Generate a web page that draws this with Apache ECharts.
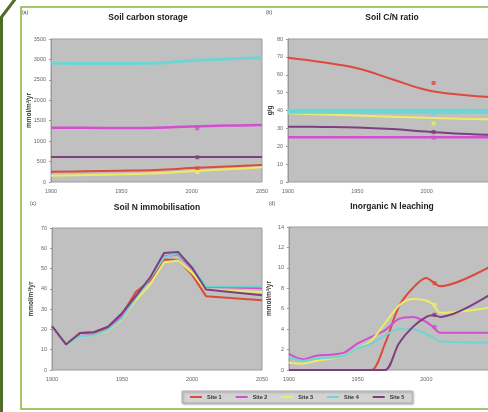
<!DOCTYPE html>
<html>
<head>
<meta charset="utf-8">
<script src="https://cdn.jsdelivr.net/npm/echarts@6/dist/echarts.min.js"></script>
<style>
  html, body { margin: 0; padding: 0; overflow: hidden; background: #fff; }
  #chart { width: 520px; height: 412px; }
</style>
</head>
<body>
<div id="chart"></div>
<script>
var sites = ["Site 1", "Site 2", "Site 3", "Site 4", "Site 5"];
var siteColors = ["#dc4a3e", "#d24fd2", "#ecec64", "#6fd4d4", "#7e3f80"];

// (a) soil carbon storage
var carbonYears = [1900, 1925, 1950, 1975, 2000, 2025, 2050];
var carbonS1 = [253, 262, 275, 295, 340, 380, 416];
var carbonS2 = [1330, 1325, 1322, 1330, 1358, 1380, 1395];
var carbonS3 = [155, 170, 188, 215, 262, 310, 359];
var carbonS4 = [2905, 2900, 2900, 2910, 2975, 3010, 3040];
var carbonS5 = [612, 612, 612, 612, 612, 612, 612];
var carbonObsYear = 2004;
var carbonObs = [335, 1315, 245, 2990, 605];

// (b) soil C/N ratio
var cnYears = [1900, 1925, 1950, 1975, 2000, 2025, 2050];
var cnS1 = [69.5, 67, 63.6, 57.5, 51.5, 48.8, 47.3];
var cnS2 = [25, 25, 25, 25, 25, 25, 25];
var cnS3 = [38.4, 37.8, 37.2, 36.5, 35.9, 35.4, 35];
var cnS4 = [39.6, 39.6, 39.6, 39.6, 39.6, 39.6, 39.6];
var cnS5 = [30.9, 30.8, 30.5, 29.6, 28.2, 27, 26.2];
var cnObsYear = 2005;
var cnObs = [55.4, 24.8, 32.8, 38.4, 28];

// (c) soil N immobilisation
var immYears = [1900, 1910, 1920, 1930, 1940, 1950, 1960, 1970, 1980, 1990, 2000, 2010, 2050];
var immS1 = [21.6, 12.6, 18.2, 18.6, 21.2, 27.5, 38.5, 44, 54.5, 54.2, 47, 36.4, 34.4];
var immS2 = [21.6, 12.6, 16.8, 17.2, 20, 27, 36.5, 45, 56, 57, 50, 41, 40.3];
var immS3 = [21.6, 12.6, 16.5, 17, 19.5, 25, 34.5, 42, 53, 54, 48, 39.5, 38.5];
var immS4 = [21.6, 12.6, 16.5, 17, 19.8, 25.5, 35.5, 45, 55.5, 57.5, 51, 41.3, 41.2];
var immS5 = [21.6, 12.6, 18.2, 18.6, 21.3, 28, 36.5, 45.5, 57.7, 58.2, 50.5, 39.7, 36.8];

// (d) inorganic N leaching
var leachYears = [1900, 1910, 1920, 1930, 1940, 1950, 1960, 1970, 1980, 1990, 2000, 2005, 2010, 2050];
var leachS1 = [0, 0, 0, 0, 0, 0, 0, 2.6, 6.2, 8.0, 9.0, 8.6, 8.2, 10.4];
var leachS2 = [1.57, 1.05, 1.4, 1.5, 1.7, 2.6, 3.25, 3.9, 5.0, 5.2, 4.7, 4.2, 3.65, 3.65];
var leachS3 = [0.72, 0.62, 0.9, 1.1, 1.4, 2.1, 2.9, 4.6, 6.3, 6.95, 6.8, 6.4, 5.6, 6.2];
var leachS4 = [1.3, 0.9, 1.1, 1.2, 1.4, 2.1, 2.6, 3.4, 4.0, 4.0, 3.5, 3.2, 2.8, 2.7];
var leachS5 = [0, 0, 0, 0, 0, 0, 0, 0, 2.6, 4.2, 5.2, 5.35, 5.2, 7.7];
var leachObsYear = 2006;
var leachObs = [8.5, 4.2, 6.4, null, 5.4];

var myChart = echarts.init(document.getElementById("chart"));

function pairs(xs, ys) {
  return xs.map(function (x, i) { return [x, ys[i]]; });
}

function makeSeries(gi, years, arrs, smooth, widths) {
  var out = [];
  arrs.forEach(function (arr, i) {
    out.push({
      name: sites[i],
      type: "line",
      xAxisIndex: gi,
      yAxisIndex: gi,
      data: pairs(years, arr),
      smooth: smooth,
      showSymbol: false,
      symbol: "none",
      color: siteColors[i],
      lineStyle: { width: widths ? widths[i] : 2, color: siteColors[i] }
    });
  });
  return out;
}

function obsSeries(gi, year, vals) {
  var out = [];
  vals.forEach(function (v, i) {
    if (v == null) return;
    out.push({
      name: "obs" + gi + i,
      type: "scatter",
      xAxisIndex: gi,
      yAxisIndex: gi,
      symbol: "rect",
      symbolSize: 4,
      data: [[year, v]],
      itemStyle: { color: siteColors[i] },
      z: 5
    });
  });
  return out;
}

var grids = [
  { left: 51, top: 39, width: 211, height: 143 },
  { left: 288, top: 39, width: 208, height: 143 },
  { left: 52, top: 228, width: 210, height: 142 },
  { left: 289, top: 227, width: 206, height: 143 }
];

var yInfo = [
  { max: 3500, interval: 500, name: "mmol/m\u00b2/yr", gap: 18 },
  { max: 80, interval: 10, name: "g/g", gap: 14 },
  { max: 70, interval: 10, name: "mmol/m\u00b2/yr", gap: 17 },
  { max: 14, interval: 2, name: "mmol/m\u00b2/yr", gap: 16 }
];

var labelStyle = {
  fontSize: 5.5,
  color: "#666",
  fontFamily: "Liberation Sans",
  formatter: function (v) { return String(v); }
};

var option = {
  animation: false,
  backgroundColor: "#ffffff",
  grid: grids.map(function (g) {
    return Object.assign({
      show: true,
      backgroundColor: "#c0c0c0",
      borderColor: "#9c9c9c",
      borderWidth: 1
    }, g);
  }),
  xAxis: grids.map(function (g, i) {
    return {
      type: "value",
      gridIndex: i,
      min: 1900,
      max: 2050,
      interval: 50,
      axisLine: { show: false },
      axisTick: { show: false },
      splitLine: { show: false },
      axisLabel: Object.assign({ margin: 6, showMaxLabel: true }, labelStyle)
    };
  }),
  yAxis: yInfo.map(function (y, i) {
    return {
      type: "value",
      gridIndex: i,
      min: 0,
      max: y.max,
      interval: y.interval,
      name: y.name,
      nameLocation: "middle",
      nameRotate: 90,
      nameGap: y.gap,
      nameMoveOverlap: false,
      nameTextStyle: { fontSize: 6.5, fontWeight: "bold", color: "#333", fontFamily: "Liberation Sans" },
      axisLine: { show: true, lineStyle: { color: "#999" } },
      axisTick: { show: true, length: 2, lineStyle: { color: "#999" } },
      splitLine: { show: false },
      axisLabel: Object.assign({ margin: 5 }, labelStyle)
    };
  }),
  legend: {
    data: sites.map(function (s) { return { name: s, icon: "rect" }; }),
    left: 182,
    top: 391,
    itemWidth: 12,
    itemHeight: 2,
    itemGap: 14,
    padding: [3, 8],
    backgroundColor: "#d3d3d3",
    borderColor: "#b5b5b5",
    borderWidth: 1,
    shadowColor: "rgba(0,0,0,0.3)",
    shadowBlur: 2,
    shadowOffsetX: 1,
    shadowOffsetY: 1,
    textStyle: { fontSize: 5.5, fontWeight: "bold", color: "#333", fontFamily: "Liberation Sans" }
  },
  graphic: [
    {
      type: "rect",
      shape: { x: 21, y: 7, width: 520, height: 402 },
      style: { fill: "none", stroke: "#8db33c", lineWidth: 1.5 },
      z: 100
    },
    {
      type: "polyline",
      shape: { points: [[16, -2], [1.5, 17], [1.5, 414]] },
      style: { fill: "none", stroke: "#4e6e28", lineWidth: 3 },
      z: 100
    },
    { type: "text", x: 148, y: 18, style: { text: "Soil carbon storage", font: "bold 8.5px Liberation Sans", fill: "#222", align: "center", verticalAlign: "middle" } },
    { type: "text", x: 392, y: 18, style: { text: "Soil C/N ratio", font: "bold 8.5px Liberation Sans", fill: "#222", align: "center", verticalAlign: "middle" } },
    { type: "text", x: 157, y: 208, style: { text: "Soil N immobilisation", font: "bold 8.5px Liberation Sans", fill: "#222", align: "center", verticalAlign: "middle" } },
    { type: "text", x: 392, y: 207, style: { text: "Inorganic N leaching", font: "bold 8.5px Liberation Sans", fill: "#222", align: "center", verticalAlign: "middle" } },
    { type: "text", x: 25, y: 13, style: { text: "(a)", font: "5px Liberation Sans", fill: "#444", align: "center", verticalAlign: "middle" } },
    { type: "text", x: 269, y: 13, style: { text: "(b)", font: "5px Liberation Sans", fill: "#444", align: "center", verticalAlign: "middle" } },
    { type: "text", x: 33, y: 204, style: { text: "(c)", font: "5px Liberation Sans", fill: "#444", align: "center", verticalAlign: "middle" } },
    { type: "text", x: 272, y: 204, style: { text: "(d)", font: "5px Liberation Sans", fill: "#444", align: "center", verticalAlign: "middle" } }
  ],
  series: []
    .concat(makeSeries(0, carbonYears, [carbonS1, carbonS2, carbonS3, carbonS4, carbonS5], 0.4, [2, 2.5, 2, 3, 2]))
    .concat(obsSeries(0, carbonObsYear, carbonObs))
    .concat(makeSeries(1, cnYears, [cnS1, cnS2, cnS3, cnS4, cnS5], 0.4, [2, 2.5, 2, 5, 2]))
    .concat(obsSeries(1, cnObsYear, cnObs))
    .concat(makeSeries(2, immYears, [immS1, immS2, immS3, immS4, immS5], false, [2, 2, 2, 2, 2]))
    .concat(makeSeries(3, leachYears, [leachS1, leachS2, leachS3, leachS4, leachS5], 0.3, [2, 2, 2, 2, 2]))
    .concat(obsSeries(3, leachObsYear, leachObs))
};

myChart.setOption(option, true);
</script>
</body>
</html>
